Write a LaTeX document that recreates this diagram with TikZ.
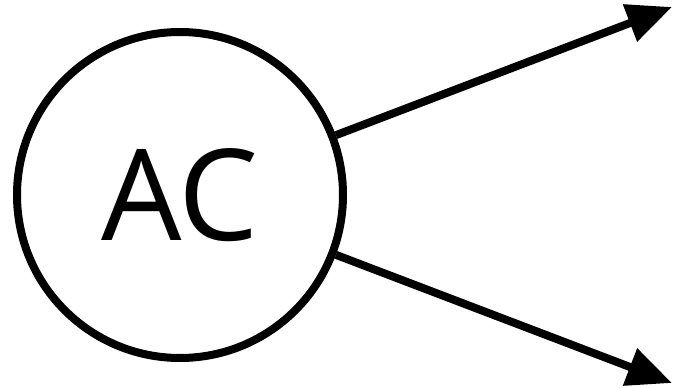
\documentclass[tikz,border=0pt]{standalone}
\usepackage{fontspec}
\setmainfont{Open Sans}
\usetikzlibrary{arrows.meta}

\begin{document}
\begin{tikzpicture}[x=1pt, y=-1pt, line width=8pt,
    >={Triangle[length=45pt,width=38pt]},
    acnode/.style={draw, circle, inner sep=0pt, minimum size=326pt,
      font=\fontsize{127}{127}\selectfont}]
    \useasboundingbox (0,0) rectangle (673,388);
    \node[acnode] (ac) at (180,195) {AC};
    \coordinate (upper) at (672,7);
    \coordinate (lower) at (672,383);
    \draw[->] (ac.21) -- (upper);
    \draw[->] (ac.-21) -- (lower);
  \end{tikzpicture}
\end{document}
